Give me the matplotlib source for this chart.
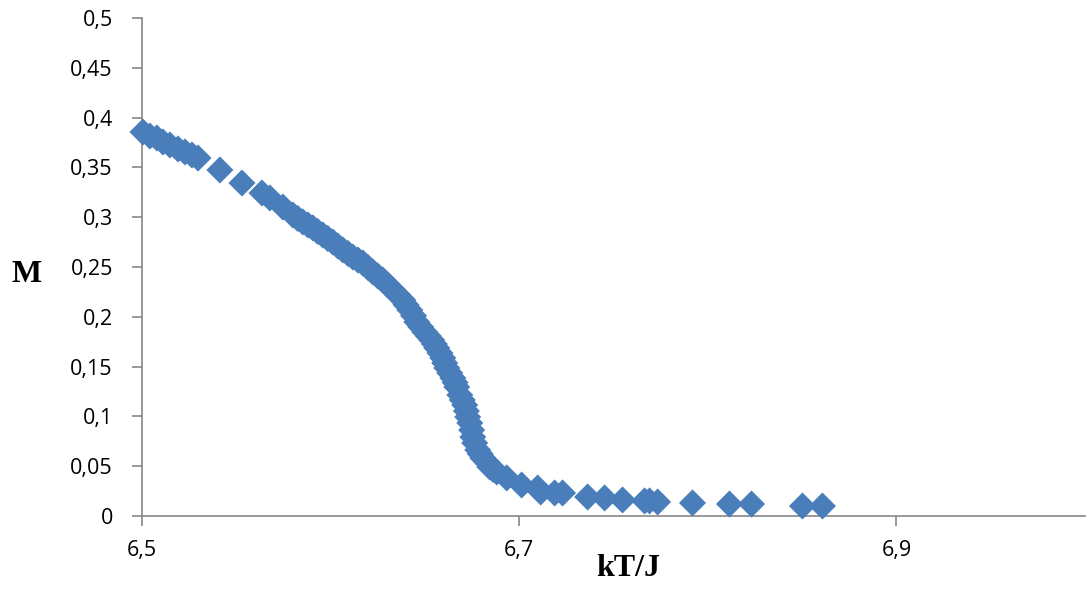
import matplotlib
matplotlib.use("Agg")
import matplotlib.pyplot as plt

# magnetisation vs reduced temperature
kT = [6.5005, 6.5042, 6.5079, 6.5111, 6.5148, 6.5191, 6.5228, 6.5265, 6.5297,
      6.5413, 6.5530, 6.5636, 6.5678, 6.5747,
      6.5800, 6.5826, 6.5853, 6.5880, 6.5906, 6.5932, 6.5959, 6.5985, 6.6012,
      6.6038, 6.6065, 6.6092, 6.6118, 6.6145, 6.6171, 6.6198, 6.6224, 6.6250,
      6.6277, 6.6304, 6.6330, 6.6356, 6.6383, 6.6400, 6.6420, 6.6440, 6.6457,
      6.6478, 6.6499, 6.6518, 6.6536, 6.6550, 6.6563, 6.6580, 6.6595, 6.6605,
      6.6616, 6.6632, 6.6648, 6.6660, 6.6669, 6.6685, 6.6698, 6.6711, 6.6720,
      6.6727, 6.6738, 6.6748, 6.6754, 6.6764, 6.6780, 6.6794, 6.6807, 6.6828,
      6.6844, 6.6862, 6.6881, 6.6934, 6.7013, 6.7098, 6.7114, 6.7188, 6.7230,
      6.7363, 6.7453, 6.7548, 6.7665, 6.7691, 6.7734, 6.7919, 6.8115, 6.8232,
      6.8502, 6.8608]
M = [0.3855, 0.3815, 0.3795, 0.3755, 0.3725, 0.3685, 0.3655, 0.3624, 0.3594,
     0.3474, 0.3343, 0.3243, 0.3193, 0.3102,
     0.3022, 0.2987, 0.2952, 0.2922, 0.2892, 0.2856, 0.2821, 0.2786, 0.2751,
     0.2711, 0.2671, 0.2636, 0.2600, 0.2570, 0.2540, 0.2495, 0.2450, 0.2410,
     0.2369, 0.2319, 0.2269, 0.2219, 0.2169, 0.2120, 0.2068, 0.2010, 0.1948,
     0.1898, 0.1847, 0.1807, 0.1767, 0.1727, 0.1687, 0.1636, 0.1586, 0.1536,
     0.1486, 0.1436, 0.1386, 0.1340, 0.1295, 0.1215, 0.1165, 0.1114, 0.1054,
     0.0994, 0.0934, 0.0863, 0.0793, 0.0733, 0.0663, 0.0622, 0.0582, 0.0542,
     0.0492, 0.0467, 0.0442, 0.0382, 0.0311, 0.0281, 0.0241, 0.0231, 0.0231,
     0.0191, 0.0181, 0.0161, 0.0151, 0.0151, 0.0141, 0.0131, 0.0120, 0.0120,
     0.0100, 0.0100]

xticks = [6.5, 6.7, 6.9]
xticklabels = ["6,5", "6,7", "6,9"]
yticks = [0, 0.05, 0.1, 0.15, 0.2, 0.25, 0.3, 0.35, 0.4, 0.45, 0.5]
yticklabels = ["0", "0,05", "0,1", "0,15", "0,2", "0,25", "0,3", "0,35", "0,4", "0,45", "0,5"]

fig = plt.figure(figsize=(10.89, 5.92), dpi=100)
ax = fig.add_axes([0.1304, 0.1284, 0.8659, 0.8412])

ax.scatter(kT, M, marker="D", s=190, color="#4a7ebb", edgecolors="none",
           zorder=3, clip_on=False)

ax.set_xlim(6.5, 7.0)
ax.set_ylim(0, 0.5)
ax.set_xticks(xticks)
ax.set_xticklabels(xticklabels)
ax.set_yticks(yticks)
ax.set_yticklabels(yticklabels)

for side in ["top", "right"]:
    ax.spines[side].set_visible(False)
for side in ["left", "bottom"]:
    ax.spines[side].set_color("#868686")
    ax.spines[side].set_linewidth(1.2)

ax.tick_params(axis="both", direction="out", length=7, width=1.2, color="#868686",
               labelsize=15.5, labelcolor="black")
ax.tick_params(axis="x", pad=10)
ax.tick_params(axis="y", pad=14)
for lab in ax.get_xticklabels() + ax.get_yticklabels():
    lab.set_family("Open Sans")

fig.text(0.024, 0.537, "M", fontsize=23, fontweight="bold", family="Liberation Serif",
         ha="center", va="center")
fig.text(0.577, 0.039, "kT/J", fontsize=23, fontweight="bold", family="Liberation Serif",
         ha="center", va="center")

fig.savefig("out.png", dpi=100)
